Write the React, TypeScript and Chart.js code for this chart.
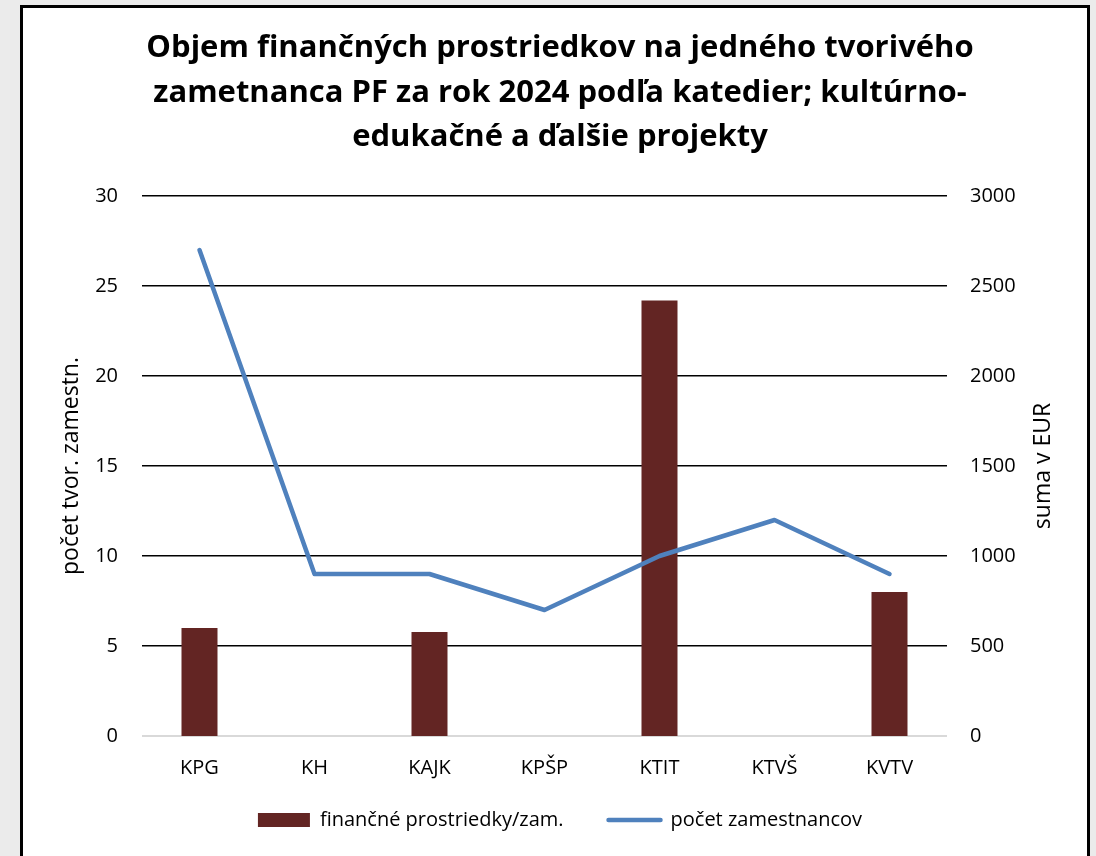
import React, { useEffect, useRef } from "react";
import { Chart, registerables } from "chart.js";

Chart.register(...registerables);

// ---- data ----
const categories = ["KPG", "KH", "KAJK", "KPŠP", "KTIT", "KTVŠ", "KVTV"];
const fundsPerEmployee = [600, 0, 578, 0, 2420, 0, 800];
const employeeCount = [27, 9, 9, 7, 10, 12, 9];
const titleLines = [
  "Objem finančných prostriedkov na jedného tvorivého",
  "zametnanca PF za rok 2024 podľa katedier; kultúrno-",
  "edukačné a ďalšie projekty",
];
const barLabel = "finančné prostriedky/zam.";
const lineLabel = "počet zamestnancov";
const leftAxisTitle = "počet tvor. zamestn.";
const rightAxisTitle = "suma v EUR";
const leftAxisRange = [0, 30, 5];
const rightAxisRange = [0, 3000, 500];

const FONT = "'Open Sans', Lato, sans-serif";
const BAR_COLOR = "#632523";
const LINE_COLOR = "#4f81bd";

const rightTitlePlugin = {
  id: "rightTitle",
  afterDraw(chart: any, _args: any, opts: any) {
    const { ctx, chartArea } = chart;
    ctx.save();
    ctx.translate(opts.x, (chartArea.top + chartArea.bottom) / 2);
    ctx.rotate(-Math.PI / 2);
    ctx.font = `${opts.size}px ${FONT}`;
    ctx.fillStyle = "#000";
    ctx.textAlign = "center";
    ctx.textBaseline = "middle";
    ctx.fillText(opts.text, 0, 0);
    ctx.restore();
  },
};

export default function App() {
  const ref = useRef<HTMLCanvasElement | null>(null);

  useEffect(() => {
    if (!ref.current) return;
    const chart = new Chart(ref.current, {
      type: "bar",
      data: {
        labels: categories,
        datasets: [
          {
            type: "bar",
            label: barLabel,
            data: fundsPerEmployee,
            backgroundColor: BAR_COLOR,
            borderWidth: 0,
            yAxisID: "y1",
            barPercentage: 0.313,
            categoryPercentage: 1,
            order: 2,
          },
          {
            type: "line",
            label: lineLabel,
            data: employeeCount,
            borderColor: LINE_COLOR,
            backgroundColor: LINE_COLOR,
            borderWidth: 4.5,
            borderCapStyle: "round",
            borderJoinStyle: "round",
            pointRadius: 0,
            pointHoverRadius: 0,
            tension: 0,
            yAxisID: "y",
            order: 1,
          },
        ],
      } as any,
      options: {
        responsive: false,
        animation: false,
        layout: { padding: { left: 24, right: 0, top: 0, bottom: 16 } },
        plugins: {
          title: {
            display: true,
            text: titleLines,
            color: "#000",
            font: { family: FONT, size: 31, weight: "bold", lineHeight: "44.5px" } as any,
            padding: { top: 26, bottom: 36.5 },
          },
          legend: {
            position: "bottom",
            labels: {
              color: "#000",
              font: { family: FONT, size: 20 },
              usePointStyle: true,
              pointStyleWidth: 52,
              boxHeight: 14,
              padding: 45,
              generateLabels: () =>
                [
                  {
                    text: barLabel,
                    fillStyle: BAR_COLOR,
                    strokeStyle: BAR_COLOR,
                    lineWidth: 0,
                    pointStyle: "rect",
                    datasetIndex: 0,
                    hidden: false,
                    fontColor: "#000",
                  },
                  {
                    text: lineLabel,
                    fillStyle: LINE_COLOR,
                    strokeStyle: LINE_COLOR,
                    lineWidth: 4.5,
                    lineCap: "round",
                    pointStyle: "line",
                    datasetIndex: 1,
                    hidden: false,
                    fontColor: "#000",
                  },
                ] as any,
            },
          },
          tooltip: { enabled: false },
          rightTitle: { text: rightAxisTitle, x: 1043, size: 23 },
        } as any,
        scales: {
          x: {
            grid: { display: false },
            border: { display: false },
            ticks: { color: "#000", font: { family: FONT, size: 20 }, padding: -44, mirror: true },
            afterFit: (s: any) => {
              s.height = 29;
            },
          },
          y: {
            position: "left",
            min: leftAxisRange[0],
            max: leftAxisRange[1],
            ticks: {
              stepSize: leftAxisRange[2],
              color: "#000",
              font: { family: FONT, size: 20 },
              padding: 24,
              callback: (v: any) => String(v),
            },
            grid: {
              drawTicks: false,
              color: (c: any) => (c.tick && c.tick.value === 0 ? "#d9d9d9" : "#000"),
              lineWidth: (c: any) => (c.tick && c.tick.value === 0 ? 2 : 1.4),
            },
            border: { display: false },
            title: {
              display: true,
              text: leftAxisTitle,
              color: "#000",
              font: { family: FONT, size: 23 },
              padding: { top: 34, bottom: 0 },
            },
            afterFit: (s: any) => {
              s.width = 118;
            },
          },
          y1: {
            position: "right",
            min: rightAxisRange[0],
            max: rightAxisRange[1],
            ticks: {
              stepSize: rightAxisRange[2],
              color: "#000",
              font: { family: FONT, size: 20 },
              padding: 23,
              callback: (v: any) => String(v),
            },
            grid: { display: false, drawTicks: false },
            border: { display: false },
            afterFit: (s: any) => {
              s.width = 149;
            },
          },
        },
      } as any,
      plugins: [rightTitlePlugin],
    });
    return () => chart.destroy();
  }, []);

  return (
    <div style={{ position: "fixed", left: 0, top: 0, width: 1096, height: 856, background: "#ebebeb", overflow: "hidden" }}>
      <div
        style={{
          position: "absolute",
          left: 20,
          top: 5,
          width: 1070,
          height: 880,
          boxSizing: "border-box",
          border: "3px solid #000",
          background: "#fff",
        }}
      />
      <canvas ref={ref} width={1096} height={856} style={{ position: "absolute", left: 0, top: 0, width: 1096, height: 856 }} />
    </div>
  );
}
